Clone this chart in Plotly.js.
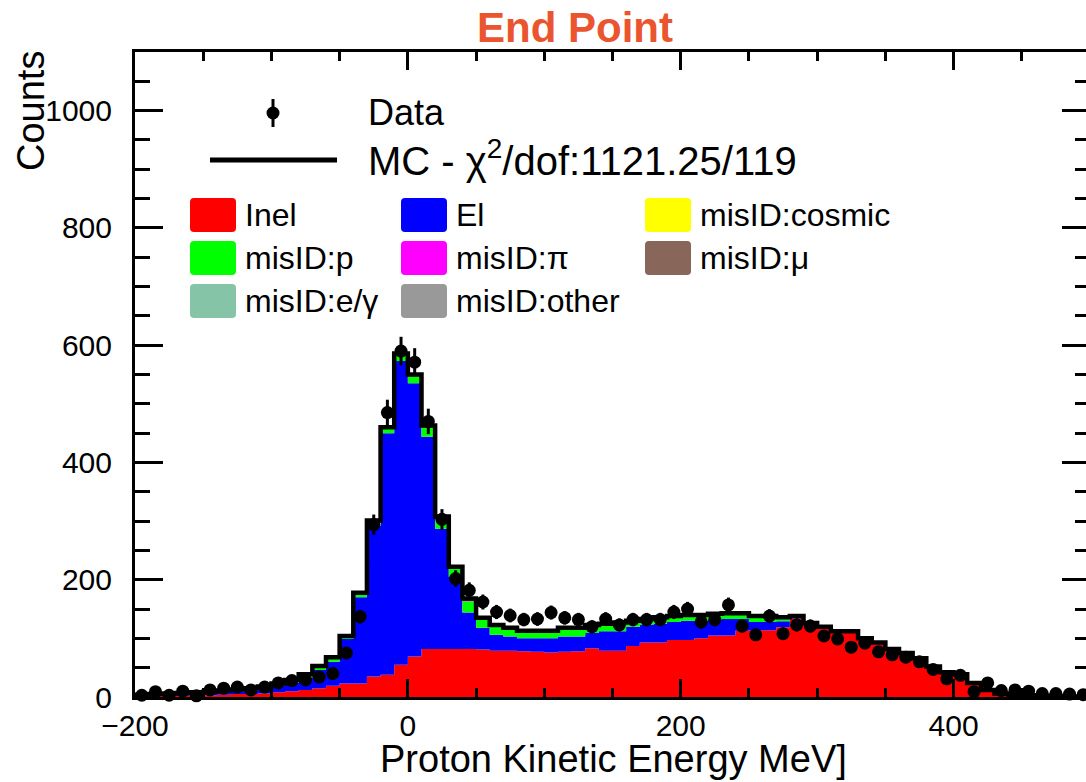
<!DOCTYPE html>
<html><head><meta charset="utf-8">
<script src="https://cdn.plot.ly/plotly-3.0.1.min.js"></script>
<style>html,body{margin:0;padding:0;overflow:hidden;background:#fff}#chart{width:1100px;height:782px}</style>
</head><body><div id="chart"></div>
<script>
// Binning: 70 bins of 10 MeV from -200 to 500
const binStart = -200, binWidth = 10, nBins = 70;

// Data counts per bin (bin centers -195 ... 495)
const dataCounts = [
  3, 9, 3, 10, 2, 12, 15, 17, 12, 17,
  24, 28, 29, 34, 40, 75, 137, 294, 485, 590,
  571, 470, 303, 202, 182, 162, 145, 139, 132, 133,
  144, 135, 132, 120, 133, 123, 132, 132, 132, 145,
  150, 128, 132, 157, 121, 106, 138, 108, 123, 121,
  104, 99, 85, 92, 77, 72, 68, 60, 47, 31,
  37, 9, 24, 11, 12, 10, 6, 6, 5, 4
];

// MC components (stacked)
const inel = [
  2, 2, 2, 2, 3, 3, 4, 5, 5, 6,
  8, 10, 12, 15, 19, 23, 23, 35, 38, 55,
  69, 82, 82, 82, 82, 81, 79, 79, 78, 77,
  76, 77, 78, 83, 79, 79, 87, 93, 93, 97,
  97, 100, 105, 105, 113, 114, 114, 119, 134, 123,
  117, 109, 109, 97, 90, 79, 72, 63, 49, 40,
  37, 21, 10, 5, 3, 2, 1.5, 1, 0.5, 0.3
];
const el = [
  1, 2, 2, 3, 3, 4, 4, 5, 6, 8,
  11, 14, 21, 31, 41, 76, 147, 257, 412, 518,
  466, 362, 205, 123, 62, 37, 27, 24, 22, 23,
  24, 26, 25, 26, 33, 33, 33, 30, 32, 31,
  33, 30, 27, 28, 20, 14, 14, 10, 1, 1,
  1, 1, 1, 1, 1, 1, 1, 1, 1, 1,
  1, 1, 0.5, 0, 0, 0, 0, 0, 0, 0
];
const misIDp = [
  1, 1, 1.5, 1, 1, 1, 2, 2, 3, 3,
  3, 4, 4.5, 5.5, 6.5, 3.5, 5.5, 6.5, 7, 9.5,
  11.5, 15.5, 16.5, 13.5, 19.5, 13.5, 13.5, 11.5, 9.5, 9.5,
  9.5, 11.5, 11.5, 10.5, 9.5, 11.5, 7.5, 7.5, 8.5, 7.5,
  7.5, 7.5, 7.5, 7.5, 7.5, 7.5, 7.5, 4.5, 1.8, 1.3,
  1.3, 1.3, 1.3, 1.3, 1.3, 1.3, 1.3, 1.3, 1.3, 0.4,
  0.6, 1.5, 1.2, 0.8, 0.8, 0.8, 0.4, 0.4, 0.4, 0.2
];
const misIDpi = [
  0, 0, 0, 0.5, 0.5, 0.5, 0.5, 0.5, 0.5, 0.5,
  0.5, 0.5, 1, 1, 1, 1, 1, 1, 1.5, 2,
  2, 2, 3, 2, 3, 2, 2, 2, 2, 2,
  2, 2, 2, 2, 2, 2, 1, 1, 1, 1,
  1, 1, 1, 1, 1, 1, 1, 1, 0.5, 0.3,
  0.3, 0.3, 0.3, 0.3, 0.3, 0.3, 0.3, 0.3, 0.3, 0.2,
  0.2, 0.3, 0.2, 0.1, 0.1, 0.1, 0, 0, 0, 0
];
const misIDmu = [
  0, 0, 0, 0, 0, 0, 0, 0, 0, 0,
  0, 0, 0, 0, 0, 0, 0.5, 0.5, 0.5, 0.5,
  0.5, 0.5, 0.5, 0.5, 0.5, 0.5, 0.5, 0.5, 0.5, 0.5,
  0.5, 0.5, 0.5, 0.5, 0.5, 0.5, 0.5, 0.5, 0.5, 0.5,
  0.5, 0.5, 0.5, 0.5, 0.5, 0.5, 0.5, 0.5, 0.2, 0.1,
  0.1, 0.1, 0.1, 0.1, 0.1, 0.1, 0.1, 0.1, 0.1, 0.1,
  0, 0, 0, 0, 0, 0, 0, 0, 0, 0
];
const misIDeg = [
  0, 0, 0, 0, 0, 0, 0, 0, 0, 0,
  0, 0, 0, 0, 0, 0, 0.5, 0.5, 0.5, 0.5,
  0.5, 0.5, 0.5, 0.5, 0.5, 0.5, 0.5, 0.5, 0.5, 0.5,
  0.5, 0.5, 0.5, 0.5, 0.5, 0.5, 0.5, 0.5, 0.5, 0.5,
  0.5, 0.5, 0.5, 0.5, 0.5, 0.5, 0.5, 0.5, 0.2, 0.1,
  0.1, 0.1, 0.1, 0.1, 0.1, 0.1, 0.1, 0.1, 0.1, 0.1,
  0, 0, 0, 0, 0, 0, 0, 0, 0, 0
];
const misIDother = [
  0, 0, 0.5, 0.5, 0.5, 0.5, 0.5, 0.5, 0.5, 0.5,
  0.5, 0.5, 0.5, 0.5, 0.5, 0.5, 0.5, 0.5, 0.5, 0.5,
  0.5, 0.5, 0.5, 0.5, 0.5, 0.5, 0.5, 0.5, 0.5, 0.5,
  0.5, 0.5, 0.5, 0.5, 0.5, 0.5, 0.5, 0.5, 0.5, 0.5,
  0.5, 0.5, 0.5, 0.5, 0.5, 0.5, 0.5, 0.5, 0.3, 0.2,
  0.2, 0.2, 0.2, 0.2, 0.2, 0.2, 0.2, 0.2, 0.2, 0.2,
  0.2, 0.2, 0.1, 0.1, 0.1, 0.1, 0.1, 0.1, 0.1, 0
];
const misIDcosmic = [
  0, 0, 0, 0, 0, 0, 0, 0, 0, 0,
  0, 0, 0, 0, 0, 0, 0, 0, 0, 0,
  0, 0, 0, 0, 0, 0, 0, 0, 0, 0,
  0, 0, 0, 0, 0, 0, 0, 0, 0, 0,
  0, 0, 0, 0, 0, 0, 0, 0, 0, 0,
  0, 0, 0, 0, 0, 0, 0, 0, 0, 0,
  0, 0, 0, 0, 0, 0, 0, 0, 0, 0
];

const xTickVals = [-200, 0, 200, 400];
const yTickVals = [0, 200, 400, 600, 800, 1000];
const chartTitle = 'End Point';
const xTitle = 'Proton Kinetic Energy MeV]';
const yTitle = 'Counts';
const dataLabel = 'Data';
const mcLabel = 'MC - χ<sup>2</sup>/dof:1121.25/119';

const components = [
  {name: 'Inel', vals: inel, color: '#ff0000'},
  {name: 'El', vals: el, color: '#0000ff'},
  {name: 'misID:p', vals: misIDp, color: '#00ff00'},
  {name: 'misID:π', vals: misIDpi, color: '#ff00ff'},
  {name: 'misID:μ', vals: misIDmu, color: '#88665a'},
  {name: 'misID:e/γ', vals: misIDeg, color: '#86c4a8'},
  {name: 'misID:other', vals: misIDother, color: '#999999'},
  {name: 'misID:cosmic', vals: misIDcosmic, color: '#ffff00'}
];
// legend layout order: rows of 3
const legendGrid = [
  ['Inel', 'El', 'misID:cosmic'],
  ['misID:p', 'misID:π', 'misID:μ'],
  ['misID:e/γ', 'misID:other']
];

const FONT = 'Liberation Sans, Arial, Helvetica, sans-serif';
const edges = [];
for (let i = 0; i <= nBins; i++) edges.push(binStart + i * binWidth);
const centers = [];
for (let i = 0; i < nBins; i++) centers.push(binStart + (i + 0.5) * binWidth);
const stepY = a => a.concat([a[a.length - 1]]);

const traces = [];
components.forEach(c => {
  traces.push({
    type: 'scatter', mode: 'lines', x: edges, y: stepY(c.vals),
    stackgroup: 'mc', line: {shape: 'hv', width: 0, color: c.color},
    fillcolor: c.color, showlegend: false, hoverinfo: 'skip'
  });
});
const total = centers.map((_, i) => components.reduce((s, c) => s + c.vals[i], 0));
traces.push({
  type: 'scatter', mode: 'lines', x: edges, y: stepY(total),
  line: {shape: 'hv', width: 4.5, color: '#000'}, showlegend: false, hoverinfo: 'skip'
});
traces.push({
  type: 'scatter', mode: 'markers', x: centers, y: dataCounts,
  marker: {color: '#000', size: 13},
  error_y: {type: 'data', array: dataCounts.map(v => Math.sqrt(v)), thickness: 3, width: 0, color: '#000'},
  cliponaxis: false, showlegend: false
});

// plot area in pixels
const L = 135, R = 1090, T = 52, B = 697, W = 1100, H = 782;
const PX = p => (p - L) / (R - L);
const PY = p => (B - p) / (B - T);

const shapes = [];
const annotations = [];
// Data legend entry
shapes.push({type: 'line', xref: 'paper', yref: 'paper', x0: PX(273), x1: PX(273), y0: PY(99), y1: PY(127), line: {color: '#000', width: 3}});
shapes.push({type: 'circle', xref: 'paper', yref: 'paper', x0: PX(266.5), x1: PX(279.5), y0: PY(119.5), y1: PY(106.5), fillcolor: '#000', line: {color: '#000', width: 0}});
annotations.push({xref: 'paper', yref: 'paper', x: PX(366), y: PY(112), xanchor: 'left', yanchor: 'middle', text: dataLabel, showarrow: false, font: {family: FONT, size: 36, color: '#000'}});
// MC legend entry
shapes.push({type: 'line', xref: 'paper', yref: 'paper', x0: PX(210), x1: PX(337), y0: PY(160), y1: PY(160), line: {color: '#000', width: 5}});
annotations.push({xref: 'paper', yref: 'paper', x: PX(366), y: PY(158), xanchor: 'left', yanchor: 'middle', text: mcLabel, showarrow: false, font: {family: FONT, size: 40, color: '#000'}});

const colBox = [190, 401, 645], boxW = 46, boxH = 34, rowC = [215, 258, 301];
function roundRect(x0, y0, x1, y1, r) {
  const X = v => PX(v), Y = v => PY(v);
  return `M ${X(x0 + r)} ${Y(y0)} L ${X(x1 - r)} ${Y(y0)} Q ${X(x1)} ${Y(y0)} ${X(x1)} ${Y(y0 + r)} ` +
    `L ${X(x1)} ${Y(y1 - r)} Q ${X(x1)} ${Y(y1)} ${X(x1 - r)} ${Y(y1)} L ${X(x0 + r)} ${Y(y1)} ` +
    `Q ${X(x0)} ${Y(y1)} ${X(x0)} ${Y(y1 - r)} L ${X(x0)} ${Y(y0 + r)} Q ${X(x0)} ${Y(y0)} ${X(x0 + r)} ${Y(y0)} Z`;
}
legendGrid.forEach((row, ri) => {
  row.forEach((name, ci) => {
    const c = components.find(k => k.name === name);
    const x0 = colBox[ci], yc = rowC[ri];
    shapes.push({type: 'path', xref: 'paper', yref: 'paper', path: roundRect(x0, yc - boxH / 2, x0 + boxW, yc + boxH / 2, 4), fillcolor: c.color, line: {width: 0}});
    annotations.push({xref: 'paper', yref: 'paper', x: PX(x0 + boxW + 7), y: PY(yc), xanchor: 'left', yanchor: 'middle', text: name, showarrow: false, font: {family: FONT, size: 32, color: '#000'}});
  });
});
// axis titles
annotations.push({xref: 'paper', yref: 'paper', x: PX(613), y: PY(759), xanchor: 'center', yanchor: 'middle', text: xTitle, showarrow: false, font: {family: FONT, size: 38, color: '#000'}});
annotations.push({xref: 'paper', yref: 'paper', x: PX(31), y: PY(111), xanchor: 'center', yanchor: 'middle', textangle: -90, text: yTitle, showarrow: false, font: {family: FONT, size: 38, color: '#000'}});

const axisCommon = {
  showline: true, linewidth: 3, linecolor: '#000', mirror: 'ticks', ticks: 'inside',
  tickwidth: 3, tickcolor: '#000', showgrid: false, zeroline: false,
  tickfont: {family: FONT, size: 30, color: '#000'}
};
const layout = {
  width: W, height: H,
  margin: {l: L, r: W - R, t: T, b: H - B},
  paper_bgcolor: '#fff', plot_bgcolor: '#fff',
  title: {text: '<b>' + chartTitle + '</b>', font: {family: FONT, size: 42, color: '#ea5530'},
          x: 575 / W, xref: 'container', xanchor: 'center', y: 1 - 27 / H, yref: 'container', yanchor: 'middle'},
  xaxis: Object.assign({}, axisCommon, {range: [-200, 500], tickvals: xTickVals, ticklen: 18,
    ticklabelstandoff: 0, minor: {dtick: 50, tick0: 0, ticklen: 9, tickwidth: 3, tickcolor: '#000', ticks: 'inside'}}),
  yaxis: Object.assign({}, axisCommon, {range: [0, 1100], tickvals: yTickVals, ticklen: 28,
    ticklabelstandoff: 14, minor: {dtick: 50, tick0: 0, ticklen: 15, tickwidth: 3, tickcolor: '#000', ticks: 'inside'}}),
  shapes: shapes, annotations: annotations, showlegend: false
};
Plotly.newPlot('chart', traces, layout, {displayModeBar: false, staticPlot: true});
</script></body></html>
